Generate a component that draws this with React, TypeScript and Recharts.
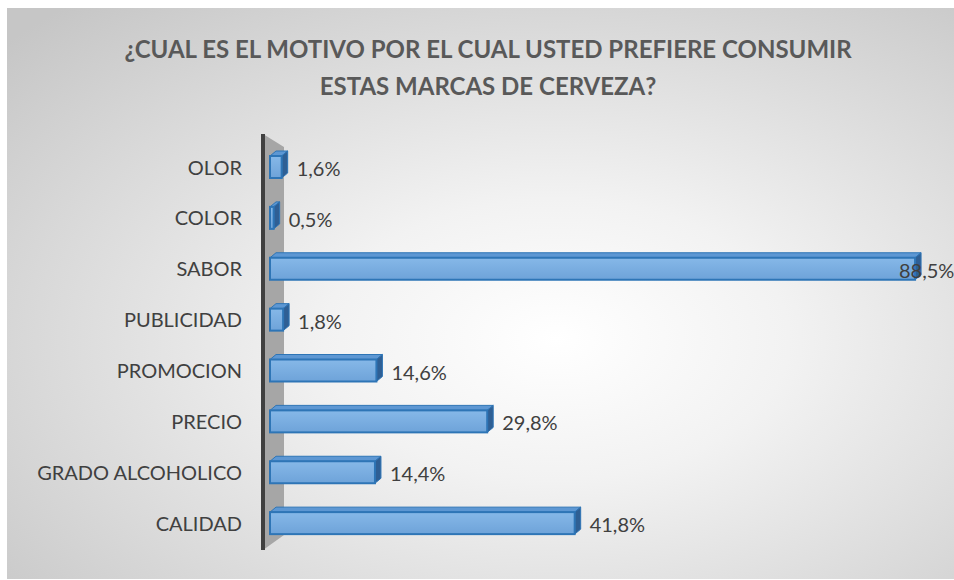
import { BarChart, Bar, XAxis, YAxis, LabelList, Customized } from 'recharts';

const categories = ['OLOR', 'COLOR', 'SABOR', 'PUBLICIDAD', 'PROMOCION', 'PRECIO', 'GRADO ALCOHOLICO', 'CALIDAD'];
const percentages = [1.6, 0.5, 88.5, 1.8, 14.6, 29.8, 14.4, 41.8];
const titleLines = ['¿CUAL ES EL MOTIVO POR EL CUAL USTED PREFIERE CONSUMIR', 'ESTAS MARCAS DE CERVEZA?'];

const data = categories.map((name, i) => ({ name, value: percentages[i] }));

const W = 947;
const H = 571;
const margin = { top: 134, right: 28, bottom: 30, left: 0 };
const axisWidth = 263;
const FONT = 'Lato, "Open Sans", sans-serif';

const fmt = (v: number) => v.toFixed(1).replace('.', ',') + '%';

// 3D-ish bar: front face, top face and dark right side
const Bar3D = (props: any) => {
  const { x, y, width, height } = props;
  const dx = 6;
  const dy = 5;
  const r = x + width;
  return (
    <g>
      <polygon
        points={`${x},${y} ${x + dx},${y - dy} ${r + dx},${y - dy} ${r},${y}`}
        fill="#5d97d3"
        stroke="#2e75b6"
        strokeWidth={1}
      />
      <polygon
        points={`${r},${y} ${r + dx},${y - dy} ${r + dx},${y + height - dy} ${r},${y + height}`}
        fill="#2f5f94"
        stroke="#2e75b6"
        strokeWidth={1}
      />
      <rect x={x} y={y} width={width} height={height} fill="url(#barFront)" stroke="#2e75b6" strokeWidth={2} />
    </g>
  );
};

const ValueLabel = (props: any) => {
  const { x, y, width, height, value } = props;
  const tx = Math.min(x + width + 15, W - 55);
  return (
    <text x={tx} y={y + height / 2 + 1} dominantBaseline="central" fill="#404040" fontSize={20} fontFamily={FONT}>
      {fmt(value)}
    </text>
  );
};

const Decorations = () => {
  const lx = axisWidth - 7;
  const top = margin.top - 8;
  const bottom = H - margin.bottom + 1;
  return (
    <g>
      {titleLines.map((t, i) => (
        <text
          key={t}
          x={481}
          y={40 + i * 37}
          textAnchor="middle"
          dominantBaseline="central"
          fill="#595959"
          fontWeight="bold"
          fontSize={24}
          fontFamily={FONT}
        >
          {t}
        </text>
      ))}
      <polygon
        points={`${lx},${top} ${lx + 21},${top + 13} ${lx + 21},${bottom - 15} ${lx},${bottom}`}
        fill="#a6a6a6"
      />
      <line x1={lx} y1={top} x2={lx} y2={bottom} stroke="#404040" strokeWidth={4} />
    </g>
  );
};

export default function App() {
  return (
    <div
      style={{
        position: 'absolute',
        left: 7,
        top: 8,
        width: W,
        height: H,
        background: 'radial-gradient(ellipse at 58% 58%, #ffffff 0%, #f2f2f2 30%, #c6c6c6 95%)',
        overflow: 'hidden',
      }}
    >
      <BarChart width={W} height={H} data={data} layout="vertical" margin={margin} barSize={22}>
        <defs>
          <linearGradient id="barFront" x1="0" y1="0" x2="0" y2="1">
            <stop offset="0%" stopColor="#86b8e8" />
            <stop offset="100%" stopColor="#6ea3d9" />
          </linearGradient>
        </defs>
        <Customized component={<Decorations />} />
        <XAxis type="number" domain={[0, 90]} hide />
        <YAxis
          type="category"
          dataKey="name"
          width={axisWidth}
          axisLine={false}
          tickLine={false}
          tickSize={0}
          tickMargin={28}
          tick={{ fill: '#404040', fontSize: 20, fontFamily: FONT }}
        />
        <Bar dataKey="value" shape={(p: any) => <Bar3D {...p} />} isAnimationActive={false}>
          <LabelList dataKey="value" content={(p: any) => <ValueLabel {...p} />} />
        </Bar>
      </BarChart>
    </div>
  );
}
